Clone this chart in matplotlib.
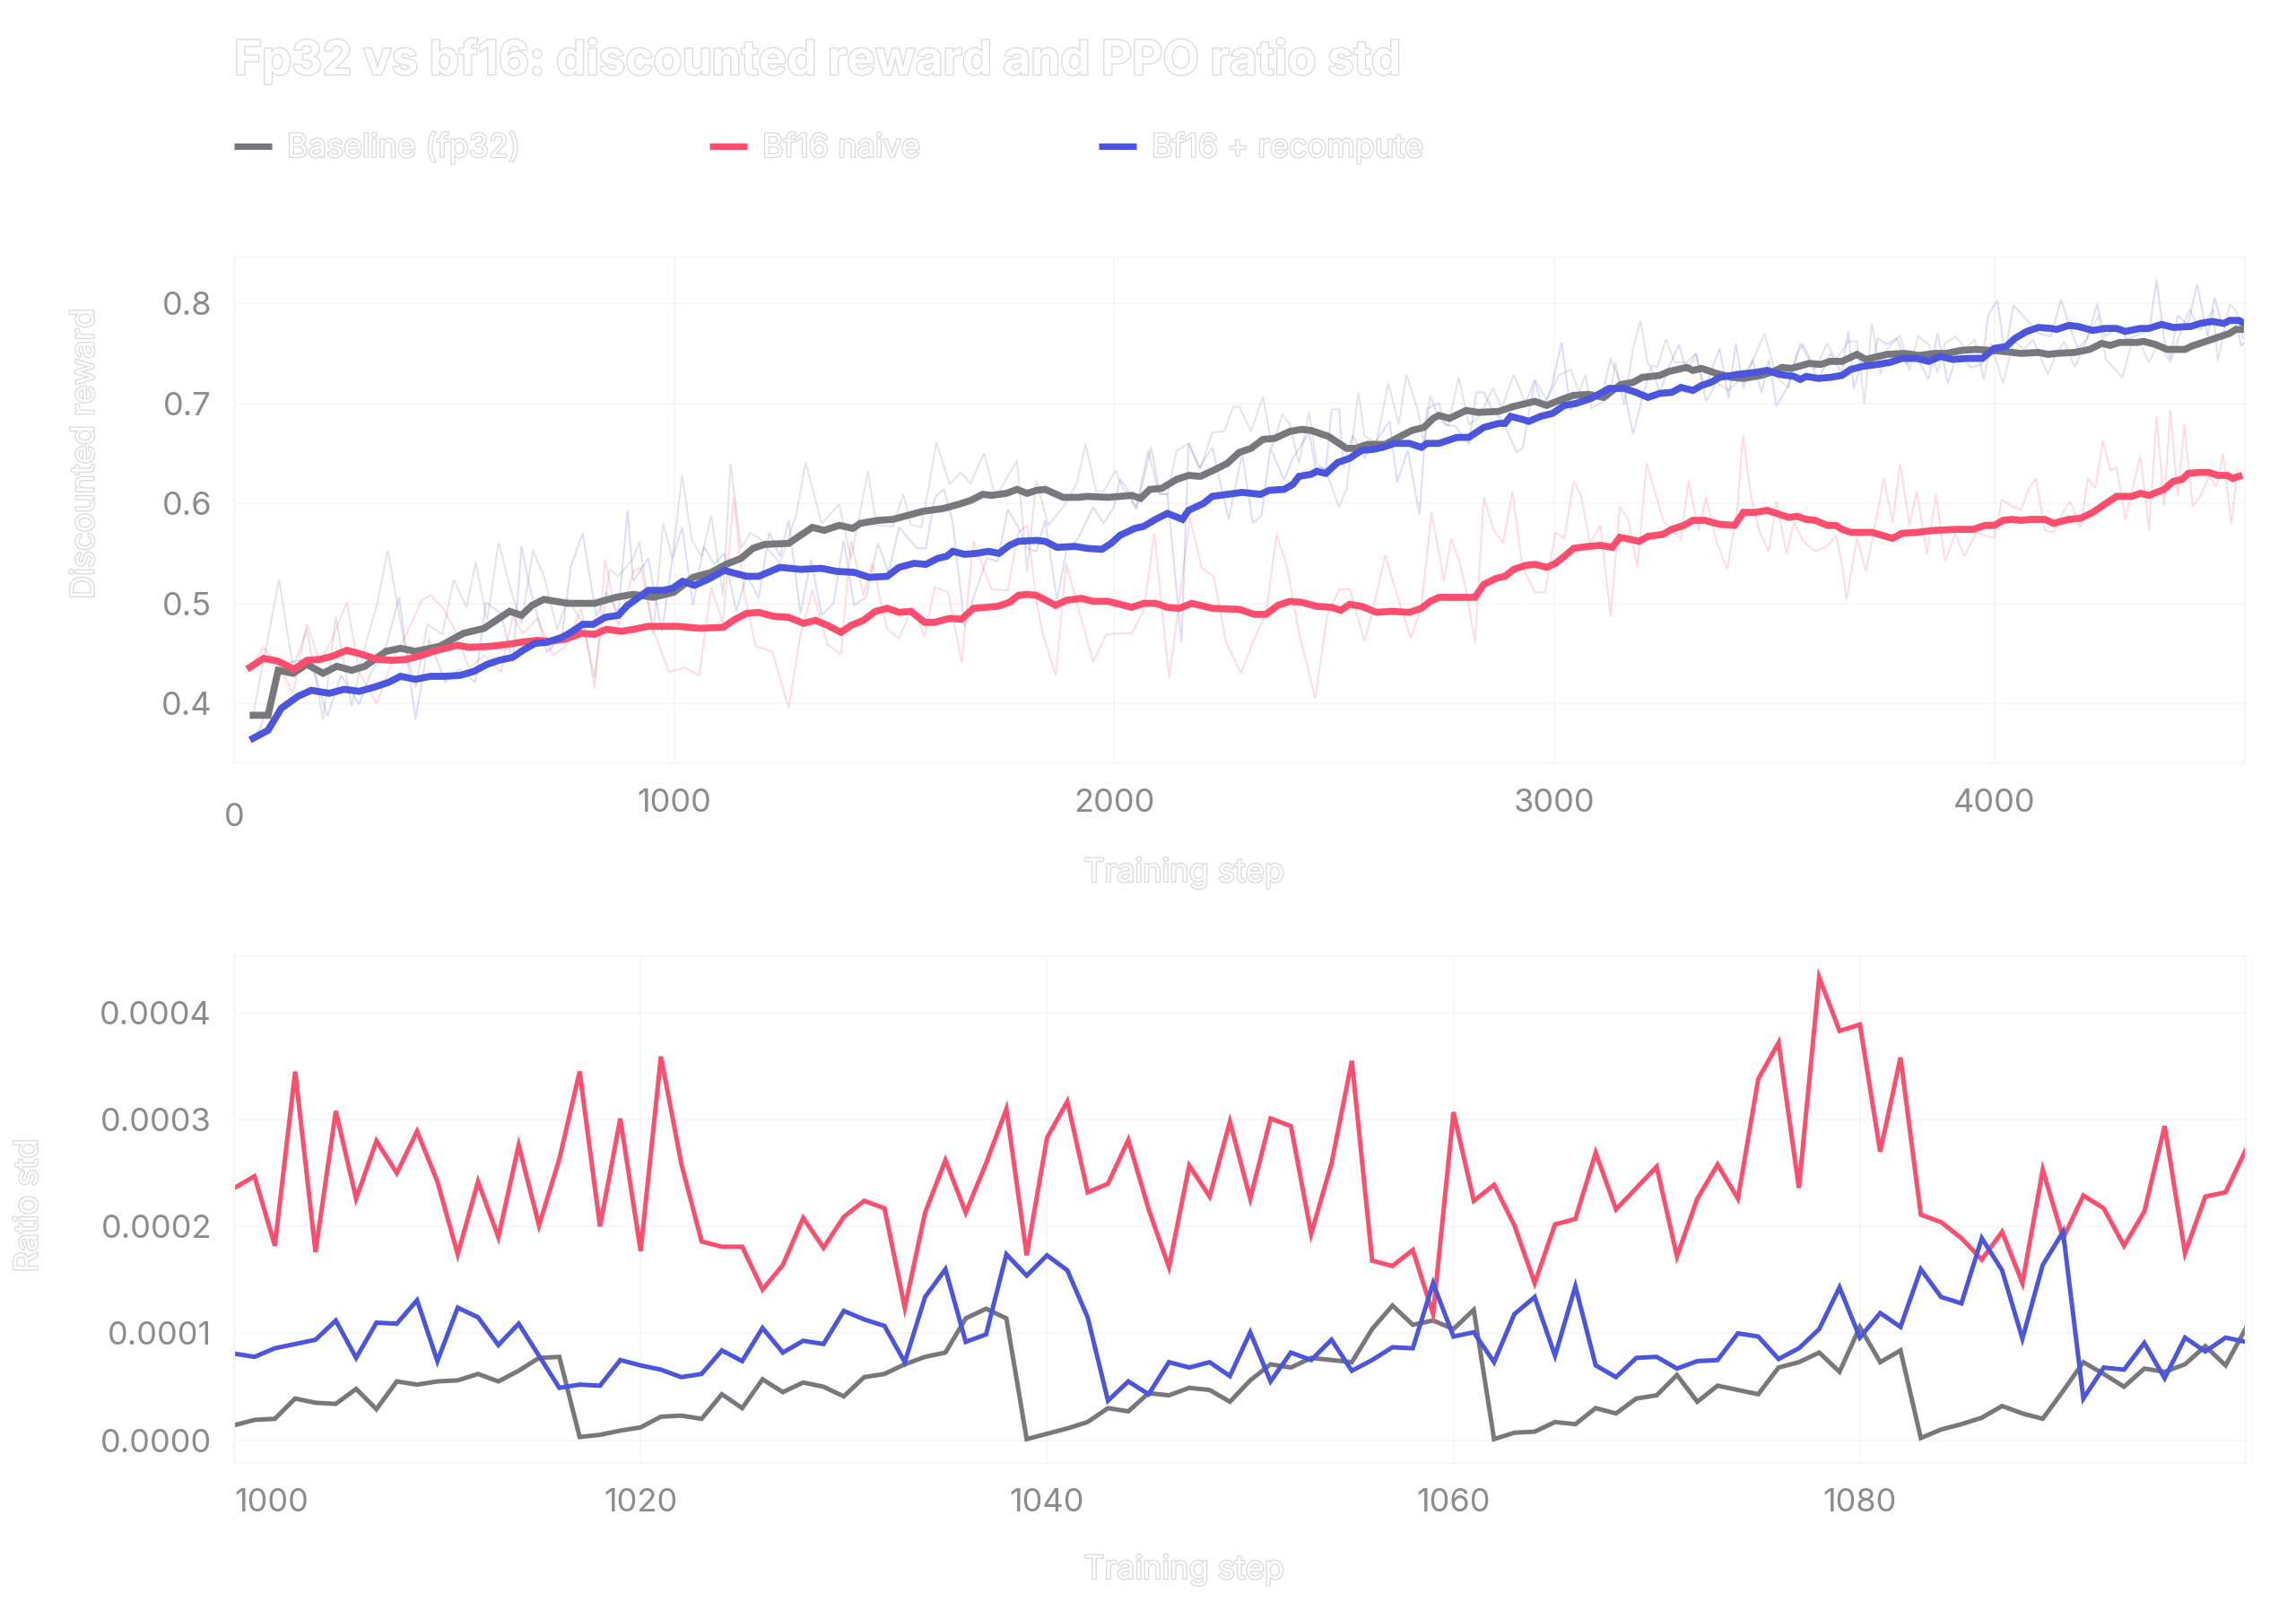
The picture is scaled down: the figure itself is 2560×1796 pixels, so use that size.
import matplotlib
matplotlib.use("Agg")
import matplotlib.pyplot as plt
import matplotlib.patheffects as pe
import matplotlib.transforms as mtransforms
from matplotlib.lines import Line2D
import numpy as np

plt.rcParams['font.family'] = ['Inter', 'DejaVu Sans']

# ---- top panel: discounted reward (smoothed) ----
base_sm_step = [43, 77, 100, 134, 165, 202, 233, 267, 297, 345, 378, 412, 467, 521, 568, 626, 653, 677, 704, 758,
                819, 867, 907, 952, 999, 1043, 1084, 1118, 1152, 1179, 1206, 1260, 1287, 1314, 1341, 1375, 1406, 1423,
                1463, 1497, 1531, 1565, 1613, 1646, 1674, 1701, 1721, 1755, 1779, 1802, 1823, 1843, 1884, 1918, 1938,
                1986, 2040, 2060, 2081, 2108, 2142, 2169, 2196, 2230, 2257, 2284, 2311, 2338, 2365, 2399, 2426, 2447,
                2487, 2528, 2548, 2576, 2616, 2650, 2677, 2704, 2725, 2738, 2762, 2800, 2827, 2874, 2908, 2956, 2983,
                3023, 3044, 3078, 3112, 3152, 3179, 3200, 3240, 3261, 3301, 3315, 3335, 3369, 3403, 3430, 3471, 3498,
                3518, 3539, 3579, 3606, 3627, 3654, 3688, 3708, 3756, 3796, 3830, 3864, 3891, 3925, 3959, 3993, 4020,
                4061, 4101, 4122, 4142, 4183, 4217, 4244, 4264, 4285, 4325, 4339, 4366, 4393, 4434, 4447, 4474, 4501,
                4535, 4549, 4569]
base_sm = [.388, .388, .433, .430, .439, .430, .437, .433, .437, .452, .455, .452, .457, .470, .475, .492, .488, .498,
           .504, .500, .500, .506, .509, .506, .511, .526, .531, .539, .545, .555, .559, .560, .568, .576, .573, .578,
           .575, .580, .583, .584, .588, .592, .595, .599, .603, .609, .608, .610, .614, .610, .613, .614, .606, .606,
           .607, .606, .608, .605, .614, .615, .624, .628, .627, .634, .640, .651, .655, .664, .665, .672, .674, .673,
           .667, .655, .655, .659, .659, .667, .673, .676, .685, .688, .685, .693, .691, .692, .697, .702, .698, .705,
           .708, .709, .706, .719, .721, .726, .728, .732, .736, .733, .735, .730, .726, .725, .728, .732, .736, .735,
           .740, .739, .742, .742, .749, .744, .749, .750, .748, .750, .750, .753, .754, .753, .752, .750, .751, .749,
           .750, .751, .754, .760, .758, .761, .761, .762, .759, .754, .754, .757, .761, .765, .770, .774, .774]

naive_sm_step = [36, 67, 100, 136, 165, 195, 222, 256, 290, 324, 361, 392, 426, 453, 480, 507, 534, 582, 622, 650, 690,
                 717, 751, 789, 819, 846, 880, 907, 941, 1009, 1057, 1111, 1138, 1165, 1192, 1226, 1260, 1294, 1321,
                 1348, 1379, 1402, 1430, 1457, 1484, 1511, 1538, 1569, 1592, 1626, 1653, 1680, 1735, 1762, 1782, 1802,
                 1823, 1867, 1891, 1925, 1952, 1986, 2040, 2067, 2094, 2121, 2148, 2176, 2223, 2284, 2318, 2345, 2372,
                 2399, 2426, 2460, 2494, 2515, 2535, 2562, 2596, 2630, 2671, 2698, 2718, 2738, 2820, 2840, 2868, 2888,
                 2908, 2935, 2956, 2983, 3003, 3023, 3044, 3078, 3105, 3132, 3149, 3173, 3193, 3213, 3247, 3267, 3295,
                 3315, 3342, 3376, 3410, 3430, 3457, 3484, 3512, 3532, 3552, 3573, 3593, 3620, 3640, 3654, 3674, 3722,
                 3769, 3790, 3824, 3864, 3912, 3952, 3979, 4000, 4020, 4041, 4061, 4081, 4115, 4135, 4169, 4196, 4224,
                 4244, 4278, 4312, 4332, 4352, 4386, 4407, 4427, 4441, 4468, 4488, 4508, 4529, 4542, 4556]
naive_sm = [.436, .445, .442, .434, .443, .444, .447, .453, .449, .444, .443, .444, .448, .452, .455, .458, .456, .457,
            .459, .461, .463, .462, .464, .470, .469, .474, .472, .474, .477, .477, .475, .476, .484, .490, .491, .487,
            .486, .480, .483, .478, .471, .478, .483, .492, .495, .491, .492, .481, .481, .485, .484, .495, .497, .501,
            .508, .509, .508, .498, .503, .505, .502, .502, .496, .500, .500, .496, .495, .500, .495, .494, .489, .489,
            .498, .502, .501, .497, .496, .493, .499, .497, .491, .492, .491, .495, .502, .506, .506, .519, .525, .527,
            .534, .538, .539, .536, .540, .547, .555, .557, .558, .556, .566, .564, .562, .567, .569, .574, .578, .583,
            .583, .579, .578, .591, .591, .593, .589, .586, .587, .584, .583, .578, .578, .574, .571, .571, .565, .570,
            .571, .573, .574, .574, .578, .578, .583, .584, .583, .584, .584, .580, .584, .585, .591, .597, .607, .607,
            .610, .608, .614, .622, .624, .630, .631, .631, .628, .628, .625, .627]

recomp_sm_step = [43, 77, 107, 145, 175, 216, 250, 284, 317, 351, 378, 412, 446, 480, 514, 545, 575, 602, 633, 656, 684,
                  711, 745, 765, 792, 816, 843, 873, 894, 907, 941, 975, 996, 1019, 1046, 1077, 1114, 1138, 1165, 1192,
                  1240, 1287, 1335, 1369, 1409, 1443, 1484, 1511, 1545, 1572, 1599, 1619, 1633, 1660, 1687, 1714, 1738,
                  1762, 1782, 1823, 1843, 1870, 1911, 1938, 1972, 1993, 2013, 2047, 2067, 2094, 2121, 2155, 2169, 2203,
                  2223, 2257, 2291, 2332, 2352, 2386, 2406, 2420, 2447, 2460, 2481, 2508, 2535, 2562, 2589, 2610, 2637,
                  2671, 2698, 2711, 2738, 2779, 2806, 2840, 2874, 2888, 2901, 2928, 2942, 2969, 2996, 3023, 3050, 3084,
                  3125, 3159, 3186, 3213, 3240, 3267, 3288, 3315, 3335, 3356, 3376, 3417, 3437, 3457, 3484, 3512, 3545,
                  3559, 3573, 3600, 3627, 3654, 3674, 3701, 3735, 3763, 3790, 3824, 3851, 3878, 3905, 3939, 3973, 4000,
                  4027, 4047, 4074, 4101, 4129, 4142, 4169, 4190, 4224, 4251, 4278, 4298, 4332, 4352, 4380, 4407, 4447,
                  4468, 4495, 4522, 4535, 4556, 4569]
recomp_sm = [.365, .373, .395, .407, .413, .410, .414, .412, .416, .421, .427, .424, .427, .427, .428, .432, .439, .443,
             .446, .453, .460, .461, .466, .471, .479, .479, .486, .488, .498, .502, .513, .513, .515, .522, .518, .524,
             .533, .530, .527, .527, .536, .534, .535, .532, .531, .526, .527, .536, .540, .539, .545, .547, .552, .549,
             .550, .552, .550, .558, .562, .563, .562, .556, .557, .555, .554, .560, .568, .575, .577, .584, .590, .584,
             .593, .600, .607, .609, .611, .609, .613, .614, .619, .627, .629, .632, .630, .641, .645, .653, .654, .656,
             .660, .660, .656, .660, .660, .666, .666, .676, .680, .680, .687, .684, .682, .687, .690, .698, .700, .705,
             .715, .715, .711, .706, .710, .711, .716, .713, .718, .721, .726, .729, .730, .731, .733, .729, .727, .724,
             .727, .725, .726, .728, .734, .737, .739, .741, .745, .745, .742, .747, .744, .745, .745, .755, .757, .765,
             .772, .776, .775, .774, .778, .777, .773, .775, .775, .772, .775, .775, .779, .776, .777, .780, .782, .780,
             .783, .783, .780]

# ---- top panel: raw (unsmoothed) reward ----
base_raw_step = [43, 102, 134, 165, 202, 231, 267, 297, 324, 349, 385, 412, 439, 473, 499, 528, 549, 575, 601, 629, 653,
                 679, 704, 734, 758, 792, 819, 853, 873, 907, 921, 952, 975, 996, 1018, 1040, 1063, 1084, 1111, 1128,
                 1152, 1172, 1192, 1240, 1277, 1299, 1335, 1375, 1402, 1440, 1460, 1497, 1521, 1538, 1562, 1596, 1626,
                 1650, 1674, 1704, 1731, 1779, 1802, 1823, 1850, 1884, 1915, 1935, 1959, 1976, 2003, 2020, 2050, 2077,
                 2101, 2121, 2142, 2169, 2196, 2223, 2250, 2270, 2284, 2311, 2338, 2359, 2382, 2399, 2420, 2443, 2460,
                 2481, 2511, 2528, 2555, 2569, 2596, 2623, 2647, 2664, 2691, 2705, 2718, 2738, 2759, 2783, 2806, 2827,
                 2861, 2881, 2908, 2935, 2956, 2983, 3010, 3037, 3057, 3071, 3084, 3125, 3139, 3159, 3179, 3196, 3213,
                 3234, 3254, 3274, 3301, 3322, 3345, 3369, 3396, 3423, 3450, 3478, 3505, 3532, 3552, 3566, 3593, 3620,
                 3640, 3654, 3668, 3688, 3705, 3722, 3742, 3756, 3786, 3807, 3827, 3851, 3871, 3888, 3912, 3935, 3956,
                 3976, 3993, 4020, 4044, 4068, 4088, 4122, 4142, 4159, 4183, 4210, 4237, 4254, 4291, 4312, 4332, 4352,
                 4373, 4400, 4420, 4444, 4468, 4498, 4508, 4535, 4549, 4566]
base_raw = [.388, .524, .435, .474, .384, .487, .397, .457, .498, .553, .464, .415, .479, .469, .524, .496, .541, .483,
            .561, .513, .480, .553, .527, .474, .505, .480, .426, .534, .527, .545, .562, .469, .580, .545, .628, .563,
            .547, .588, .508, .640, .555, .570, .566, .540, .588, .641, .580, .599, .544, .632, .578, .577, .609, .579,
            .576, .661, .619, .631, .620, .650, .606, .643, .532, .623, .578, .596, .620, .659, .612, .612, .633, .615,
            .596, .653, .610, .609, .653, .660, .635, .671, .672, .696, .697, .672, .707, .656, .689, .679, .640, .691,
            .640, .633, .596, .614, .711, .667, .661, .720, .679, .729, .692, .658, .708, .685, .677, .726, .679, .685,
            .715, .695, .729, .700, .724, .703, .728, .734, .711, .729, .695, .705, .741, .698, .754, .783, .739, .736,
            .764, .741, .741, .750, .702, .721, .713, .724, .741, .770, .726, .716, .750, .759, .734, .760, .744, .752,
            .762, .762, .700, .780, .729, .754, .768, .733, .767, .759, .731, .760, .767, .755, .764, .724, .760, .720,
            .762, .754, .764, .729, .750, .762, .736, .764, .788, .744, .726, .760, .759, .741, .760, .741, .767, .794,
            .773, .794, .742, .799, .793, .765]

naive_raw_step = [36, 67, 100, 134, 165, 195, 222, 256, 284, 324, 358, 392, 426, 446, 473, 500, 534, 568, 606, 633, 656,
                  690, 724, 751, 789, 819, 843, 873, 907, 924, 955, 989, 1023, 1057, 1084, 1111, 1135, 1158, 1185,
                  1223, 1260, 1287, 1314, 1348, 1379, 1402, 1430, 1450, 1484, 1511, 1541, 1569, 1592, 1623, 1653, 1680,
                  1721, 1758, 1782, 1802, 1823, 1837, 1867, 1891, 1918, 1952, 1982, 2013, 2040, 2067, 2091, 2125, 2148,
                  2172, 2199, 2226, 2254, 2288, 2318, 2345, 2369, 2393, 2420, 2457, 2484, 2511, 2535, 2569, 2593, 2616,
                  2643, 2674, 2698, 2721, 2738, 2749, 2766, 2786, 2803, 2820, 2840, 2861, 2884, 2905, 2928, 2956, 2979,
                  3003, 3023, 3044, 3061, 3081, 3105, 3128, 3149, 3169, 3189, 3210, 3247, 3288, 3305, 3328, 3345, 3369,
                  3393, 3417, 3429, 3447, 3467, 3488, 3505, 3528, 3545, 3566, 3593, 3620, 3640, 3654, 3664, 3688, 3708,
                  3725, 3749, 3769, 3786, 3807, 3824, 3847, 3868, 3888, 3912, 3932, 3959, 3979, 4000, 4017, 4040, 4061,
                  4078, 4095, 4115, 4135, 4156, 4173, 4196, 4213, 4230, 4247, 4264, 4278, 4298, 4332, 4352, 4369, 4386,
                  4400, 4417, 4432, 4451, 4468, 4488, 4505, 4520, 4539, 4552]
naive_raw = [.436, .456, .438, .410, .479, .441, .464, .501, .431, .400, .441, .470, .503, .508, .496, .475, .435, .448,
             .431, .487, .470, .485, .448, .456, .495, .415, .544, .477, .532, .536, .470, .431, .436, .428, .516, .480,
             .606, .513, .457, .452, .395, .469, .513, .459, .449, .563, .508, .540, .474, .465, .496, .467, .516, .511,
             .441, .562, .514, .513, .571, .578, .503, .470, .428, .540, .496, .441, .469, .470, .470, .493, .570, .425,
             .503, .586, .535, .527, .461, .430, .464, .490, .569, .536, .470, .405, .488, .514, .514, .462, .503, .548,
             .508, .465, .496, .591, .550, .522, .565, .540, .505, .461, .606, .575, .560, .612, .536, .511, .511, .571,
             .565, .622, .608, .560, .578, .487, .597, .583, .536, .640, .584, .563, .623, .573, .606, .562, .534, .597,
             .669, .607, .571, .552, .602, .550, .581, .562, .552, .557, .568, .540, .503, .565, .532, .568, .625, .581,
             .640, .578, .612, .549, .609, .542, .570, .547, .571, .568, .565, .604, .597, .594, .614, .625, .573, .571,
             .591, .602, .575, .625, .615, .663, .633, .636, .584, .648, .573, .687, .597, .693, .607, .679, .597, .607,
             .627, .617, .650, .579, .633]

recomp_raw_step = [43, 60, 107, 148, 182, 212, 243, 284, 311, 345, 375, 412, 443, 480, 511, 548, 572, 606, 633, 653,
                   670, 711, 745, 765, 792, 823, 846, 873, 894, 907, 941, 972, 996, 1018, 1043, 1067, 1091, 1114, 1141,
                   1165, 1192, 1216, 1240, 1260, 1287, 1311, 1335, 1362, 1385, 1409, 1436, 1463, 1487, 1511, 1552, 1572,
                   1592, 1613, 1633, 1660, 1680, 1711, 1735, 1758, 1782, 1802, 1823, 1843, 1870, 1891, 1918, 1952, 1976,
                   1999, 2013, 2026, 2050, 2084, 2104, 2121, 2153, 2169, 2193, 2223, 2260, 2291, 2315, 2335, 2355, 2386,
                   2406, 2443, 2457, 2481, 2494, 2511, 2521, 2542, 2569, 2596, 2626, 2643, 2667, 2694, 2711, 2738, 2752,
                   2776, 2806, 2823, 2840, 2861, 2881, 2915, 2929, 2942, 2956, 2973, 2993, 3017, 3037, 3061, 3084, 3108,
                   3128, 3162, 3179, 3200, 3220, 3240, 3261, 3284, 3301, 3322, 3342, 3376, 3396, 3413, 3430, 3450, 3471,
                   3488, 3505, 3532, 3559, 3579, 3600, 3627, 3654, 3668, 3681, 3701, 3725, 3735, 3756, 3779, 3800, 3820,
                   3851, 3871, 3895, 3918, 3946, 3973, 3986, 4007, 4024, 4044, 4061, 4081, 4101, 4129, 4152, 4169, 4190,
                   4210, 4234, 4251, 4278, 4305, 4332, 4352, 4369, 4386, 4400, 4417, 4440, 4461, 4485, 4501, 4518, 4535,
                   4549, 4562, 4573]
recomp_raw = [.365, .376, .439, .443, .431, .387, .428, .399, .431, .457, .506, .384, .464, .421, .434, .421, .501, .490,
              .441, .557, .519, .451, .467, .537, .570, .487, .511, .490, .593, .522, .545, .472, .545, .576, .498, .557,
              .539, .550, .492, .529, .505, .571, .547, .583, .490, .544, .488, .500, .563, .498, .506, .560, .531, .576,
              .555, .555, .606, .614, .581, .477, .505, .545, .542, .594, .576, .555, .552, .583, .503, .552, .565, .596,
              .580, .596, .624, .617, .594, .656, .609, .609, .461, .660, .635, .656, .584, .650, .580, .588, .656, .623,
              .645, .671, .636, .635, .694, .694, .636, .668, .646, .663, .682, .621, .653, .589, .695, .700, .679, .677,
              .659, .711, .711, .692, .684, .651, .656, .689, .723, .695, .715, .761, .693, .705, .708, .705, .745, .708,
              .669, .705, .737, .711, .737, .759, .731, .750, .715, .755, .705, .760, .715, .744, .711, .744, .697, .718,
              .760, .744, .723, .750, .730, .773, .715, .746, .741, .765, .759, .765, .739, .749, .724, .770, .720, .754,
              .736, .739, .788, .803, .750, .798, .790, .780, .770, .767, .804, .780, .755, .764, .799, .767, .775, .764,
              .770, .772, .824, .764, .744, .788, .778, .819, .767, .806, .778, .785, .780, .757, .765]

# ---- bottom panel: PPO ratio std (x 1e-4), steps 1000..1099 ----
ratio_steps = list(range(1000, 1100))
ratio_scale = 1e-4
base_ratio = [0.14, 0.19, 0.20, 0.39, 0.35, 0.34, 0.48, 0.29, 0.55, 0.52,
              0.55, 0.56, 0.62, 0.55, 0.65, 0.77, 0.78, 0.03, 0.05, 0.09,
              0.12, 0.22, 0.23, 0.20, 0.43, 0.30, 0.57, 0.45, 0.54, 0.50,
              0.41, 0.59, 0.62, 0.71, 0.78, 0.82, 1.14, 1.23, 1.14, 0.01,
              0.06, 0.11, 0.17, 0.30, 0.27, 0.44, 0.42, 0.49, 0.47, 0.36,
              0.56, 0.71, 0.68, 0.77, 0.75, 0.73, 1.04, 1.26, 1.08, 1.12,
              1.04, 1.22, 0.01, 0.07, 0.08, 0.17, 0.15, 0.30, 0.25, 0.39,
              0.42, 0.61, 0.36, 0.51, 0.47, 0.43, 0.68, 0.73, 0.82, 0.64,
              1.06, 0.73, 0.84, 0.02, 0.10, 0.15, 0.21, 0.32, 0.25, 0.20,
              0.46, 0.73, 0.62, 0.50, 0.67, 0.64, 0.71, 0.88, 0.70, 1.05]
naive_ratio = [2.36, 2.47, 1.82, 3.45, 1.76, 3.08, 2.26, 2.80, 2.50, 2.89,
               2.42, 1.74, 2.42, 1.90, 2.76, 2.01, 2.63, 3.45, 2.00, 3.01,
               1.77, 3.59, 2.59, 1.86, 1.81, 1.81, 1.41, 1.64, 2.08, 1.80,
               2.09, 2.24, 2.17, 1.24, 2.13, 2.62, 2.13, 2.59, 3.10, 1.73,
               2.83, 3.17, 2.32, 2.40, 2.81, 2.16, 1.62, 2.57, 2.28, 2.98,
               2.26, 3.01, 2.94, 1.93, 2.59, 3.55, 1.68, 1.63, 1.78, 1.18,
               3.07, 2.24, 2.39, 2.01, 1.47, 2.02, 2.07, 2.69, 2.16, 2.36,
               2.56, 1.72, 2.26, 2.58, 2.26, 3.38, 3.72, 2.36, 4.33, 3.83,
               3.89, 2.70, 3.58, 2.11, 2.04, 1.89, 1.69, 1.95, 1.47, 2.53,
               1.89, 2.29, 2.17, 1.82, 2.14, 2.94, 1.75, 2.28, 2.32, 2.72]
recomp_ratio = [0.81, 0.78, 0.86, 0.90, 0.94, 1.12, 0.77, 1.10, 1.09, 1.31,
                0.74, 1.24, 1.15, 0.89, 1.09, 0.79, 0.49, 0.52, 0.51, 0.75,
                0.70, 0.66, 0.59, 0.62, 0.84, 0.74, 1.05, 0.82, 0.93, 0.90,
                1.21, 1.13, 1.07, 0.73, 1.34, 1.60, 0.92, 0.99, 1.74, 1.54,
                1.73, 1.59, 1.15, 0.37, 0.55, 0.43, 0.73, 0.68, 0.73, 0.60,
                1.01, 0.55, 0.82, 0.75, 0.94, 0.65, 0.75, 0.87, 0.86, 1.47,
                0.97, 1.01, 0.73, 1.18, 1.34, 0.79, 1.44, 0.70, 0.59, 0.77,
                0.78, 0.67, 0.74, 0.75, 1.00, 0.97, 0.76, 0.86, 1.04, 1.43,
                0.96, 1.19, 1.06, 1.60, 1.34, 1.28, 1.89, 1.59, 0.95, 1.64,
                1.95, 0.39, 0.68, 0.66, 0.91, 0.58, 0.96, 0.83, 0.96, 0.92]

labels = ['Baseline (fp32)', 'Bf16 naive', 'Bf16 + recompute']
colors = ['#77777c', '#ff4d6d', '#4b55dd']

TICK_COLOR = '#8c8c8c'
GRID_COLOR = '#f7f7f7'
WHITE_TXT = dict(color='white', path_effects=[pe.withStroke(linewidth=0.9, foreground='#d9d9d9')])

fig = plt.figure(figsize=(12.8, 8.98), dpi=200)
fig.patch.set_facecolor('white')

ax1 = fig.add_axes([0.1020, 0.5262, 0.8758, 0.3140])
ax2 = fig.add_axes([0.1020, 0.0919, 0.8762, 0.3146])

# raw lines first (faint), then smoothed on top
for st, vals, c in zip([base_raw_step, naive_raw_step, recomp_raw_step],
                       [base_raw, naive_raw, recomp_raw], colors):
    ax1.plot(st, vals, color=c, lw=0.7, alpha=0.2, solid_joinstyle='miter')
for st, vals, c in zip([base_sm_step, naive_sm_step, recomp_sm_step],
                       [base_sm, naive_sm, recomp_sm], colors):
    ax1.plot(st, vals, color=c, lw=2.8, solid_joinstyle='miter')

for vals, c in zip([base_ratio, naive_ratio, recomp_ratio], colors):
    ax2.plot(ratio_steps, np.array(vals) * ratio_scale, color=c, lw=1.8, solid_joinstyle='miter')

ax1.set_xlim(0, 4570)
ax1.set_ylim(0.340, 0.846)
ax1.set_xticks([0, 1000, 2000, 3000, 4000])
ax1.set_yticks([0.4, 0.5, 0.6, 0.7, 0.8])
ax1.set_yticklabels(['0.4', '0.5', '0.6', '0.7', '0.8'])

ax2.set_xlim(1000, 1099)
ax2.set_ylim(-0.0000213, 0.000453)
ax2.set_xticks([1000, 1020, 1040, 1060, 1080])
ax2.set_yticks([0, 0.0001, 0.0002, 0.0003, 0.0004])
ax2.set_yticklabels(['{:.4f}'.format(v) for v in [0, 0.0001, 0.0002, 0.0003, 0.0004]])

for ax in (ax1, ax2):
    ax.set_facecolor('white')
    for s in ax.spines.values():
        s.set_color(GRID_COLOR)
        s.set_linewidth(0.8)
    ax.grid(True, color=GRID_COLOR, lw=0.8)
    ax.set_axisbelow(True)
    ax.tick_params(length=0, labelsize=13, labelcolor=TICK_COLOR, pad=9)
    ax.tick_params(axis='x', pad=10)

# first tick labels placed a bit off like the original
fig.canvas.draw()
lab0 = ax1.get_xticklabels()[0]
lab0.set_transform(lab0.get_transform() + mtransforms.ScaledTranslation(0, -16 / 200, fig.dpi_scale_trans))
ax2.get_xticklabels()[0].set_horizontalalignment('left')

# title / legend / axis titles (white text)
fig.text(261 / 2560, 1 - 83 / 1796, 'Fp32 vs bf16: discounted reward and PPO ratio std',
         fontsize=19, fontweight='bold', va='baseline', ha='left', **WHITE_TXT)

leg_x = [261, 791, 1225]
for x0, lab, c in zip(leg_x, labels, colors):
    fig.add_artist(Line2D([x0 / 2560, (x0 + 42) / 2560], [1 - 163 / 1796] * 2, color=c, lw=2.6,
                          solid_capstyle='butt', transform=fig.transFigure))
    fig.text((x0 + 59) / 2560, 1 - 175 / 1796, lab, fontsize=13, va='baseline', ha='left', **WHITE_TXT)

fig.text(1320 / 2560, 1 - 973 / 1796, 'Training step', fontsize=13, ha='center', va='center', **WHITE_TXT)
fig.text(1320 / 2560, 1 - 1750 / 1796, 'Training step', fontsize=13, ha='center', va='center', **WHITE_TXT)
fig.text(95 / 2560, 1 - 506 / 1796, 'Discounted reward', fontsize=13, rotation=90, ha='center', va='center',
         **WHITE_TXT)
fig.text(32 / 2560, 1 - 1344 / 1796, 'Ratio std', fontsize=13, rotation=90, ha='center', va='center', **WHITE_TXT)

fig.savefig('out.png', dpi=200, facecolor='white')
